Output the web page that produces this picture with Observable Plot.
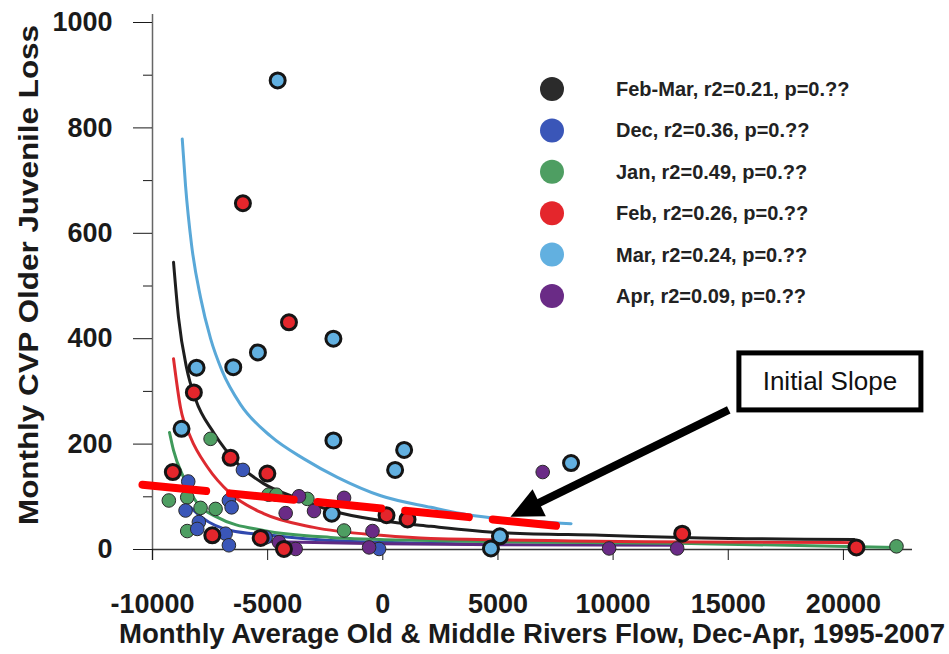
<!DOCTYPE html>
<html><head><meta charset="utf-8">
<script src="https://cdn.jsdelivr.net/npm/d3@7"></script>
<script src="https://cdn.jsdelivr.net/npm/@observablehq/plot@0.6"></script>
<style>
body{margin:0;background:#fff;}
#chart{position:relative;width:949px;height:654px;}
svg g[aria-label="y-axis tick label"], svg g[aria-label="x-axis tick label"]{font-weight:bold;}
</style></head><body><div id="chart"></div>
<script>
const FONT = '"Liberation Sans", Arial, Helvetica, sans-serif';

// ---- legend / series ----
const seriesNames = ["Feb-Mar", "Dec", "Jan", "Feb", "Mar", "Apr"];
const legendLabels = ["Feb-Mar, r2=0.21, p=0.??", "Dec, r2=0.36, p=0.??", "Jan, r2=0.49, p=0.??",
                      "Feb, r2=0.26, p=0.??", "Mar, r2=0.24, p=0.??", "Apr, r2=0.09, p=0.??"];
const dotColors = ["#2b2b2b", "#3a56b8", "#4e9e62", "#e4262c", "#62b0e0", "#6a2b86"];
const lineColors = ["#1e1e1e", "#3048ae", "#3f9a5b", "#dd2a30", "#59a8d8", "#5e2a82"];

// ---- axes ----
const xTicks = [-10000, -5000, 0, 5000, 10000, 15000, 20000];
const yMajorTicks = [0, 200, 400, 600, 800, 1000];
const yMinorTicks = [100, 300, 500, 700, 900];
const xTitle = "Monthly Average Old & Middle Rivers Flow, Dec-Apr, 1995-2007";
const yTitle = "Monthly CVP Older Juvenile Loss";

// ---- scatter points ----
const marX = [-4565, -8087, -6493, -5422, -2145, -8739, -2145, 927, 535, -2217, 8174, 5087, 4696];
const marY = [890, 345, 346, 374, 400, 229, 207, 189, 151, 68, 164, 25, 2];
const febX = [-6074, -4074, -8204, -9117, -6609, -5013, 161, 1074, -7404, -5304, -4291, 13000, 20565];
const febY = [657, 431, 298, 147, 174, 144, 65, 57, 27, 22, 1, 30, 4];
const janX = [-7478, -9291, -8492, -7913, -7261, -8492, -4960, -4622, -3274, -1682, 22304];
const janY = [210, 93, 99, 79, 77, 35, 104, 104, 96, 36, 6];
const decX = [-6074, -8448, -6683, -8565, -6565, -7987, -8057, -6826, -6683, -5087, -160];
const decY = [151, 129, 93, 74, 80, 52, 39, 30, 8, 23, 1];
const aprX = [-3639, -4217, -2987, -1682, -448, -4509, -3783, -595, 6943, 9826, 12783];
const aprY = [101, 69, 73, 98, 35, 14, 1, 4, 147, 2, 2];

// ---- fitted curves ----
const fitFebMarX = [-9087, -8870, -8522, -8130, -7348, -6304, -5174, -3696, -2261, -87, 2087, 5130, 9478, 13826, 20478];
const fitFebMarY = [545, 440, 345, 285, 222, 163, 125, 97, 74, 55, 44, 32, 27, 22, 19];
const fitDecX = [-8350, -7830, -6610, -4870, -2260, 2090, 4260];
const fitDecY = [80, 60, 36, 27, 17, 12, 10];
const fitJanX = [-9261, -9087, -8652, -8043, -7174, -5174, -2261, 2087, 13826, 22304];
const fitJanY = [222, 188, 137, 87, 61, 36, 23, 17, 11, 4];
const fitFebX = [-9087, -8783, -8348, -7609, -6609, -5174, -3000, -87, 2087, 13826, 20478];
const fitFebY = [362, 269, 213, 156, 106, 68, 42, 27, 21, 14, 13];
const fitMarX = [-8709, -8565, -8304, -7913, -7478, -6970, -6174, -4870, -3422, -1970, -87, 2087, 3683, 5500, 8174];
const fitMarY = [779, 690, 578, 478, 400, 338, 275, 215, 172, 137, 102, 80, 66, 57, 49];
const fitAprX = [-5300, -87, 5130, 13000];
const fitAprY = [15, 11, 9, 8];

// ---- annotations ----
const slopeX = [-10435, 7522];
const slopeY = [123, 45];
const arrowX = [15043, 5565];   // tail, tip
const arrowY = [264, 61];
const noteText = "Initial Slope";
const noteX = 19435, noteY = 318;

// ---- build tables ----
const zip = (xs, ys, s) => xs.map((x, i) => ({x, y: ys[i], s}));
const ringed = [...zip(febX, febY, "Feb"), ...zip(marX, marY, "Mar")];
const plain = [...zip(janX, janY, "Jan"), ...zip(decX, decY, "Dec"), ...zip(aprX, aprY, "Apr")];
const fits = [
  ["Dec", fitDecX, fitDecY], ["Apr", fitAprX, fitAprY], ["Jan", fitJanX, fitJanY],
  ["Feb", fitFebX, fitFebY], ["Feb-Mar", fitFebMarX, fitFebMarY], ["Mar", fitMarX, fitMarY]
];
const colorOf = s => dotColors[seriesNames.indexOf(s)];
const lineOf = s => lineColors[seriesNames.indexOf(s)];

const fitMarks = fits.map(([s, xs, ys]) =>
  Plot.line(zip(xs, ys, s), {x: "x", y: "y", stroke: lineOf(s), strokeWidth: 3, curve: "monotone-x"}));

const chart = Plot.plot({
  width: 949, height: 654,
  marginLeft: 152, marginRight: 37, marginTop: 22, marginBottom: 105,
  x: {domain: [-10000, 23000]},
  y: {domain: [0, 1000]},
  style: {fontFamily: FONT, color: "#1a1a1a", background: "#fff", overflow: "visible"},
  marks: [
    Plot.ruleX([-10000], {stroke: "#666", strokeWidth: 1.5, insetTop: -8, insetBottom: -11}),
    Plot.ruleY([0], {stroke: "#333", strokeWidth: 1.5}),
    Plot.axisY({ticks: yMajorTicks, tickSize: 19, tickPadding: 21, fontSize: 27, label: null, tickFormat: d => String(d)}),
    Plot.axisY({ticks: yMinorTicks, tickSize: 9, text: null, label: null}),
    Plot.axisX({ticks: xTicks, tickSize: 11, tickPadding: 33, fontSize: 27, label: null, tickFormat: d => String(d)}),
    ...fitMarks,
    Plot.dot(plain, {x: "x", y: "y", r: 6.8, fill: d => colorOf(d.s), stroke: "#2a2a2a", strokeWidth: 1}),
    Plot.dot(ringed, {x: "x", y: "y", r: 7.5, fill: d => colorOf(d.s), stroke: "#151515", strokeWidth: 3}),
    Plot.line(zip(slopeX, slopeY, "slope"), {x: "x", y: "y", stroke: "#ff0000", strokeWidth: 8, strokeDasharray: "64,24", clip: false})
  ]
});

document.getElementById("chart").appendChild(chart);
const svg = d3.select(chart);
const sx = chart.scale("x"), sy = chart.scale("y");

// axis titles
svg.append("text")
  .attr("transform", "translate(28,275) rotate(-90)")
  .attr("text-anchor", "middle").attr("dominant-baseline", "central")
  .attr("font-family", FONT).attr("font-weight", "bold").attr("font-size", 28)
  .attr("fill", "#1a1a1a")
  .attr("textLength", 500).attr("lengthAdjust", "spacingAndGlyphs")
  .text(yTitle);
svg.append("text")
  .attr("x", 532).attr("y", 643)
  .attr("text-anchor", "middle")
  .attr("font-family", FONT).attr("font-weight", "bold").attr("font-size", 27)
  .attr("fill", "#1a1a1a")
  .attr("textLength", 826).attr("lengthAdjust", "spacingAndGlyphs")
  .text(xTitle);

// legend
const lg = svg.append("g");
legendLabels.forEach((lab, i) => {
  const cy = 89 + i * 41.4;
  lg.append("circle").attr("cx", 552).attr("cy", cy).attr("r", 12).attr("fill", dotColors[i]);
  lg.append("text").attr("x", 616).attr("y", cy).attr("dominant-baseline", "central")
    .attr("text-anchor", "start")
    .attr("font-family", FONT).attr("font-weight", "bold").attr("font-size", 20)
    .attr("fill", "#222").text(lab);
});

// arrow
const tx = sx.apply(arrowX[0]), ty = sy.apply(arrowY[0]);
const hx = sx.apply(arrowX[1]), hy = sy.apply(arrowY[1]);
const ang = Math.atan2(hy - ty, hx - tx);
const headLen = 32, headHalf = 15;
const bx = hx - headLen * Math.cos(ang), by = hy - headLen * Math.sin(ang);
svg.append("line").attr("x1", tx).attr("y1", ty).attr("x2", bx + 2 * Math.cos(ang)).attr("y2", by + 2 * Math.sin(ang))
  .attr("stroke", "#000").attr("stroke-width", 8);
svg.append("path")
  .attr("d", `M${hx},${hy}L${bx - headHalf * Math.sin(ang)},${by + headHalf * Math.cos(ang)}L${bx + headHalf * Math.sin(ang)},${by - headHalf * Math.cos(ang)}Z`)
  .attr("fill", "#000");

// note box
const nx = sx.apply(noteX), ny = sy.apply(noteY);
svg.append("rect").attr("x", nx - 91).attr("y", ny - 28.5).attr("width", 182).attr("height", 57)
  .attr("fill", "#fff").attr("stroke", "#000").attr("stroke-width", 5);
svg.append("text").attr("x", nx).attr("y", ny).attr("text-anchor", "middle").attr("dominant-baseline", "central")
  .attr("font-family", FONT).attr("font-size", 26).attr("fill", "#111").text(noteText);
</script></body></html>
